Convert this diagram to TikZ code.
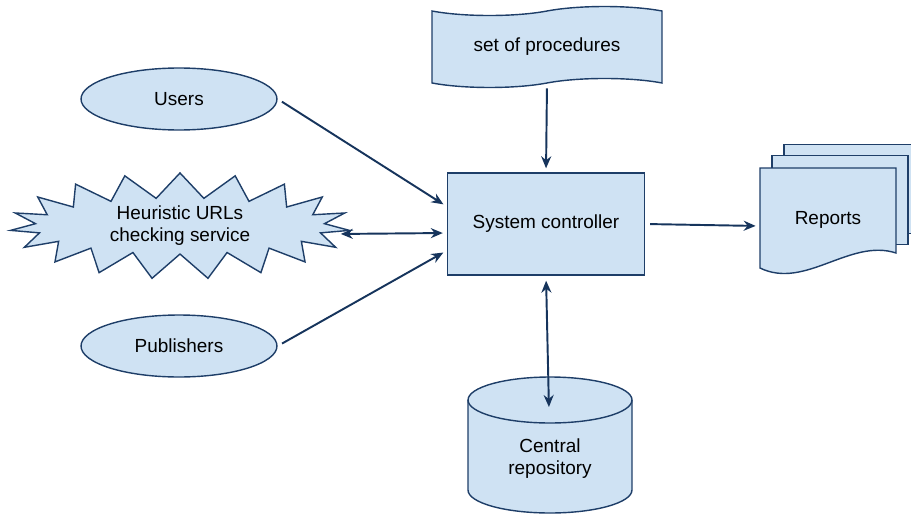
\documentclass[tikz,border=0pt]{standalone}
\usepackage{fontspec}
\setmainfont{Liberation Sans}
\usetikzlibrary{arrows.meta,shapes.geometric,shapes.symbols}
\definecolor{BoxFill}{RGB}{207,226,243}
\definecolor{BoxLine}{RGB}{30,62,104}
\definecolor{ArrowLine}{RGB}{22,52,92}

\begin{document}
\begin{tikzpicture}[x=0.02cm,y=-0.02cm,
    every node/.style={font=\fontsize{10.8}{12.5}\selectfont,align=center},
    actor/.style={ellipse,draw=BoxLine,fill=BoxFill,line width=0.8pt,
                  minimum width=3.92cm,minimum height=1.24cm},
    burst/.style={starburst,draw=BoxLine,fill=BoxFill,line width=0.8pt,
                  starburst points=19,starburst point height=0.5cm,
                  random starburst=0,minimum width=6.8cm,minimum height=1.66cm,
                  inner sep=0pt},
    proc/.style={tape,draw=BoxLine,fill=BoxFill,line width=0.8pt,
                 minimum width=4.6cm,minimum height=1.62cm,tape bend height=0.18cm},
    ctrlbox/.style={rectangle,draw=BoxLine,fill=BoxFill,line width=0.8pt,
                    minimum width=3.94cm,minimum height=2.04cm},
    sheet/.style={rectangle,draw=BoxLine,fill=BoxFill,line width=0.8pt,
                  minimum width=2.72cm,minimum height=1.78cm},
    shell/.style={draw=BoxLine,fill=BoxFill,line width=0.8pt},
    drumcap/.style={x radius=1.64cm,y radius=0.46cm},
    arr/.style={draw=ArrowLine,line width=1.1pt,
                -{Stealth[length=0.24cm,width=0.2cm]},
                shorten >=0.08cm,shorten <=0.1cm},
    dbl/.style={arr,{Stealth[length=0.24cm,width=0.2cm]}-{Stealth[length=0.24cm,width=0.2cm]}}
  ]
  \useasboundingbox (0,0) rectangle (911,517);
  % actors on the left
  \node[actor] (users) at (179,99) {Users};
  \node[burst] (heur) at (180,226) {Heuristic URLs\\checking service};
  \node[actor] (publ) at (179,346) {Publishers};
  % centre column
  \node[proc] (procs) at (547,47) {set of procedures};
  \node[ctrlbox] (ctrl) at (546,224) {System controller};
  % repository drum
  \draw[shell] (468,400) -- (468,490) arc[start angle=180,end angle=360,drumcap]
    -- (632,400) arc[start angle=0,end angle=180,drumcap] -- cycle;
  \draw[shell,fill=none] (468,400) arc[start angle=180,end angle=360,drumcap];
  \node (repo) at (550,459) {Central\\repository};
  % report stack
  \node[sheet] (rep3) at (852,189) {};
  \node[sheet] (rep2) at (840,200) {};
  \draw[shell] (760,168) -- (896,168) -- (896,253)
    .. controls (850,238) and (805,290) .. (760,268) -- cycle;
  \node[minimum width=2.72cm] (reports) at (828,220) {Reports};
  \coordinate (repotop) at (549,411);
  % connectors
  \draw[arr] (users.east) -- (ctrl.170);
  \draw[dbl] ([yshift=-0.16cm]heur.east) -- ([yshift=-0.18cm]ctrl.west);
  \draw[arr] (publ.east) -- (ctrl.195);
  \draw[arr] (procs.south) -- (ctrl.north);
  \draw[arr] (ctrl.east) -- ([yshift=-0.12cm]reports.west);
  \draw[dbl] (ctrl.south) -- (repotop);
\end{tikzpicture}
\end{document}
